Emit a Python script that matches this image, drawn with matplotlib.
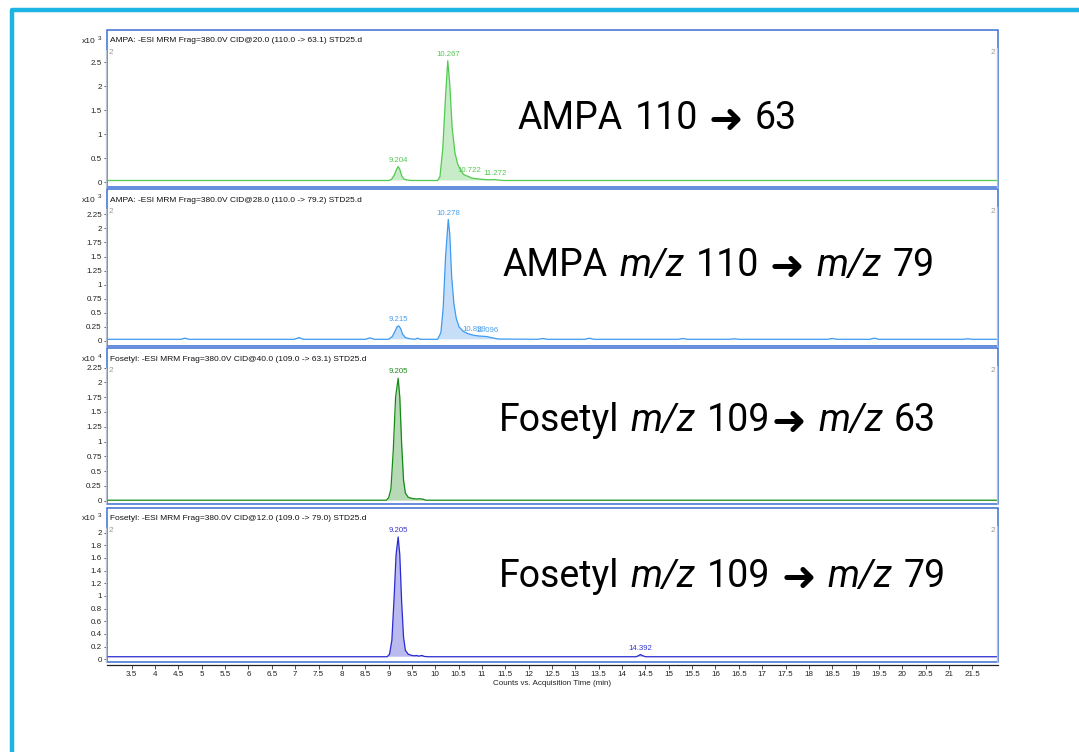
import re
import numpy as np
import matplotlib
matplotlib.use('Agg')
import matplotlib.pyplot as plt
from matplotlib.patches import Rectangle
from matplotlib.lines import Line2D
from matplotlib.ticker import FixedLocator, FixedFormatter

W, H = 1079, 752
plt.rcParams['font.family'] = ['Liberation Sans', 'DejaVu Sans']

# ------------------------------------------------------------------ data
titles = [
    'AMPA: -ESI MRM Frag=380.0V CID@20.0 (110.0 -> 63.1) STD25.d',
    'AMPA: -ESI MRM Frag=380.0V CID@28.0 (110.0 -> 79.2) STD25.d',
    'Fosetyl: -ESI MRM Frag=380.0V CID@40.0 (109.0 -> 63.1) STD25.d',
    'Fosetyl: -ESI MRM Frag=380.0V CID@12.0 (109.0 -> 79.0) STD25.d',
]
exponents = ['3', '3', '4', '3']
big_labels = ['AMPA 110 ➜ 63', 'AMPA m/z 110 ➜ m/z 79',
              'Fosetyl m/z 109➜ m/z 63', 'Fosetyl m/z 109 ➜ m/z 79']

x_ticks = [3.5, 4, 4.5, 5, 5.5, 6, 6.5, 7, 7.5, 8, 8.5, 9, 9.5, 10, 10.5, 11,
           11.5, 12, 12.5, 13, 13.5, 14, 14.5, 15, 15.5, 16, 16.5, 17, 17.5,
           18, 18.5, 19, 19.5, 20, 20.5, 21, 21.5]
x_tick_labels = ['3.5', '4', '4.5', '5', '5.5', '6', '6.5', '7', '7.5', '8',
                 '8.5', '9', '9.5', '10', '10.5', '11', '11.5', '12', '12.5',
                 '13', '13.5', '14', '14.5', '15', '15.5', '16', '16.5', '17',
                 '17.5', '18', '18.5', '19', '19.5', '20', '20.5', '21', '21.5']
x_label = 'Counts vs. Acquisition Time (min)'

y_ticks1 = [0, 0.5, 1, 1.5, 2, 2.5]
y_labels1 = ['0', '0.5', '1', '1.5', '2', '2.5']
y_ticks2 = [0, 0.25, 0.5, 0.75, 1, 1.25, 1.5, 1.75, 2, 2.25]
y_labels2 = ['0', '0.25', '0.5', '0.75', '1', '1.25', '1.5', '1.75', '2', '2.25']
y_ticks3 = [0, 0.25, 0.5, 0.75, 1, 1.25, 1.5, 1.75, 2, 2.25]
y_labels3 = ['0', '0.25', '0.5', '0.75', '1', '1.25', '1.5', '1.75', '2', '2.25']
y_ticks4 = [0, 0.2, 0.4, 0.6, 0.8, 1, 1.2, 1.4, 1.6, 1.8, 2]
y_labels4 = ['0', '0.2', '0.4', '0.6', '0.8', '1', '1.2', '1.4', '1.6', '1.8', '2']

# AMPA 110 -> 63 (x10^3 counts)
t1 = [2.97, 9.00, 9.06, 9.12, 9.17, 9.204, 9.24, 9.28, 9.33, 9.40, 9.50,
      10.05, 10.10, 10.16, 10.22, 10.267, 10.31, 10.36, 10.42, 10.48, 10.53,
      10.60, 10.66, 10.722, 10.78, 10.85, 10.95, 11.05, 11.15, 11.272, 11.35,
      11.45, 22.05]
y1 = [0.04, 0.04, 0.06, 0.15, 0.27, 0.33, 0.27, 0.14, 0.07, 0.05, 0.04,
      0.04, 0.12, 0.7, 1.8, 2.53, 2.05, 1.15, 0.62, 0.38, 0.28,
      0.17, 0.14, 0.12, 0.09, 0.08, 0.07, 0.06, 0.055, 0.06, 0.05,
      0.04, 0.04]

# AMPA 110 -> 79 (x10^3 counts)
t2 = [2.97, 4.55, 4.64, 4.73, 6.98, 7.08, 7.18, 8.50, 8.60, 8.70, 9.00,
      9.08, 9.14, 9.18, 9.215, 9.26, 9.30, 9.36, 9.45, 9.56, 9.62, 9.68,
      10.05, 10.12, 10.17, 10.22, 10.278, 10.31, 10.35, 10.40, 10.45, 10.51,
      10.60, 10.70, 10.78, 10.839, 10.92, 11.0, 11.096, 11.2, 11.35,
      12.2, 12.3, 12.4, 13.2, 13.3, 13.4, 15.2, 15.3, 15.4, 16.3, 16.4, 16.5,
      18.4, 18.5, 18.6, 19.3, 19.4, 19.5, 21.3, 21.4, 21.5, 22.05]
y2 = [0.03, 0.03, 0.05, 0.03, 0.03, 0.06, 0.03, 0.03, 0.055, 0.03, 0.03,
      0.08, 0.18, 0.25, 0.27, 0.22, 0.12, 0.06, 0.04, 0.03, 0.05, 0.03,
      0.03, 0.15, 0.6, 1.5, 2.16, 1.9, 1.15, 0.65, 0.4, 0.25,
      0.17, 0.13, 0.11, 0.10, 0.09, 0.085, 0.08, 0.06, 0.035,
      0.03, 0.045, 0.03, 0.03, 0.05, 0.03, 0.03, 0.045, 0.03, 0.03, 0.04, 0.03,
      0.03, 0.045, 0.03, 0.03, 0.05, 0.03, 0.03, 0.04, 0.03, 0.03]

# Fosetyl 109 -> 63 (x10^4 counts)
t3 = [2.97, 8.95, 9.00, 9.05, 9.10, 9.15, 9.205, 9.24, 9.28, 9.32, 9.36,
      9.42, 9.50, 9.60, 9.66, 9.72, 9.80, 22.05]
y3 = [0.01, 0.01, 0.05, 0.2, 0.85, 1.75, 2.07, 1.75, 0.95, 0.35, 0.13,
      0.06, 0.04, 0.03, 0.035, 0.03, 0.01, 0.01]

# Fosetyl 109 -> 79 (x10^3 counts)
t4 = [2.97, 8.97, 9.02, 9.07, 9.12, 9.16, 9.205, 9.24, 9.28, 9.32, 9.36,
      9.42, 9.50, 9.56, 9.60, 9.64, 9.68, 9.72, 9.76, 9.85, 14.30, 14.36,
      14.392, 14.43, 14.50, 22.05]
y4 = [0.04, 0.04, 0.08, 0.3, 1.0, 1.65, 1.93, 1.65, 0.9, 0.35, 0.14,
      0.08, 0.06, 0.055, 0.06, 0.05, 0.055, 0.06, 0.045, 0.04, 0.04, 0.06,
      0.075, 0.06, 0.04, 0.04]

peaks1 = [9.204, 10.267, 10.722, 11.272]
peaks2 = [9.215, 10.278, 10.839, 11.096]
peaks3 = [9.205]
peaks4 = [9.205, 14.392]

# ------------------------------------------------------------------ style
panels = [
    dict(t=t1, y=y1, peaks=peaks1, yt=y_ticks1, yl=y_labels1, base=0.04,
         ylim=(-0.085, 3.17), line='#4fcb4f', fill='#c8ecc8', txt='#52c852'),
    dict(t=t2, y=y2, peaks=peaks2, yt=y_ticks2, yl=y_labels2, base=0.03,
         ylim=(-0.08, 2.70), line='#3d9bf2', fill='#c6def8', txt='#4aa0f0'),
    dict(t=t3, y=y3, peaks=peaks3, yt=y_ticks3, yl=y_labels3, base=0.01,
         ylim=(-0.054, 2.58), line='#148a14', fill='#b6dab6', txt='#1c8c1c'),
    dict(t=t4, y=y4, peaks=peaks4, yt=y_ticks4, yl=y_labels4, base=0.04,
         ylim=(-0.043, 2.395), line='#2a2ad4', fill='#babaee', txt='#3434d4'),
]
panel_px = [(30, 186.5), (189, 345.5), (348, 504), (507.5, 662)]
left_px, right_px = 107, 998
XLIM = (2.97, 22.05)
BORDER = '#3b6fd4'

fig = plt.figure(figsize=(W / 100, H / 100), dpi=100)
fig.patch.set_facecolor('white')


def fx(px):
    return px / W


def fy(py):
    return 1 - py / H


axes = []
for i, ((top, bot), p) in enumerate(zip(panel_px, panels)):
    ax = fig.add_axes([fx(left_px), fy(bot), fx(right_px - left_px), (bot - top) / H])
    axes.append(ax)
    t = np.array(p['t'])
    y = np.array(p['y'])
    ax.fill_between(t, p['base'], y, where=y > p['base'] + 0.005,
                    color=p['fill'], lw=0, interpolate=True)
    ax.plot(t, y, color=p['line'], lw=0.9)
    for pt in p['peaks']:
        ax.annotate(f'{pt:.3f}', (pt, np.interp(pt, t, y)), xytext=(0, 2),
                    textcoords='offset points', ha='center', va='bottom',
                    fontsize=5.6, color=p['txt'])
    ax.set_xlim(*XLIM)
    ax.set_ylim(*p['ylim'])
    for s in ax.spines.values():
        s.set_visible(False)
    ax.add_patch(Rectangle((0, 0), 1, 1, transform=ax.transAxes, fill=False,
                           ec=BORDER, lw=1.1, clip_on=False, zorder=5))
    ax.yaxis.set_major_locator(FixedLocator(p['yt']))
    ax.yaxis.set_major_formatter(FixedFormatter(p['yl']))
    ax.tick_params(axis='y', direction='out', length=2.2, width=0.6,
                   color='#444444', labelsize=5.8, pad=1.5, labelcolor='#222222')
    if i < 3:
        ax.tick_params(axis='x', bottom=False, labelbottom=False)
    else:
        ax.spines['bottom'].set_visible(True)
        ax.spines['bottom'].set_color('#222222')
        ax.spines['bottom'].set_linewidth(0.9)
        ax.spines['bottom'].set_position(('outward', 2.2))
        ax.xaxis.set_major_locator(FixedLocator(x_ticks))
        ax.xaxis.set_major_formatter(FixedFormatter(x_tick_labels))
        ax.tick_params(axis='x', direction='out', length=3, width=0.6,
                       color='#333333', labelsize=5.8, pad=1.2,
                       labelcolor='#222222')
        ax.set_xlabel(x_label, fontsize=5.8, labelpad=1.5, color='#222222')

    # header texts
    fig.text(fx(110), fy(top + 12.5), titles[i], fontsize=6, color='#111111',
             ha='left', va='baseline')
    fig.text(fx(82), fy(top + 12.7), 'x10', fontsize=6, color='#222222',
             ha='left', va='baseline')
    fig.text(fx(97.5), fy(top + 9.5), exponents[i], fontsize=4.6,
             color='#222222', ha='left', va='baseline')
    fig.text(fx(108.5), fy(top + 19), '2', fontsize=6, color='#9a9a9a',
             ha='left', va='top')
    fig.text(fx(995.5), fy(top + 19), '2', fontsize=6, color='#9a9a9a',
             ha='right', va='top')
    # thin grey side bars
    fig.add_artist(Line2D([fx(105.6)] * 2, [fy(top + 20), fy(bot)],
                          color='#b9c3d3', lw=0.9))
    fig.add_artist(Line2D([fx(996.6)] * 2, [fy(top + 18), fy(bot)],
                          color='#bdbdbd', lw=0.9))

# ------------------------------------------------------------------ big labels
renderer = fig.canvas.get_renderer()
BIG = 27
rm = dict(family=['Roboto', 'DejaVu Sans'], fontsize=BIG, color='black')
it = dict(family=['Roboto', 'DejaVu Sans'], fontsize=BIG, style='italic',
          color='black')
ar = dict(family=['DejaVu Sans'], fontsize=BIG * 1.1, color='black')


def text_width(s, kw):
    tt = fig.text(0, 0, s, **kw)
    w = tt.get_window_extent(renderer).width
    tt.remove()
    return w


space_w = text_width('A A', rm) - text_width('AA', rm)
big_pos = [(518, 129), (503, 276), (499, 431), (499, 587)]
for s, (x0, yb) in zip(big_labels, big_pos):
    x = x0
    for tok in re.findall(r'm/z|➜| |[^ ➜]+', s):
        if tok == ' ':
            x += space_w
            continue
        kw = it if tok == 'm/z' else (ar if tok == '➜' else rm)
        dy = 2.5 if tok == '➜' else 0.0
        tt = fig.text(fx(x), fy(yb + dy), tok, ha='left', va='baseline', **kw)
        x += tt.get_window_extent(renderer).width + 2.0

# ------------------------------------------------------------------ outer frame
fig.add_artist(Line2D([1.02, fx(12), fx(12)], [fy(9.5), fy(9.5), -0.02],
                      color='#1cb4e2', lw=3.2, solid_joinstyle='round'))

fig.savefig('out.png', dpi=100)
